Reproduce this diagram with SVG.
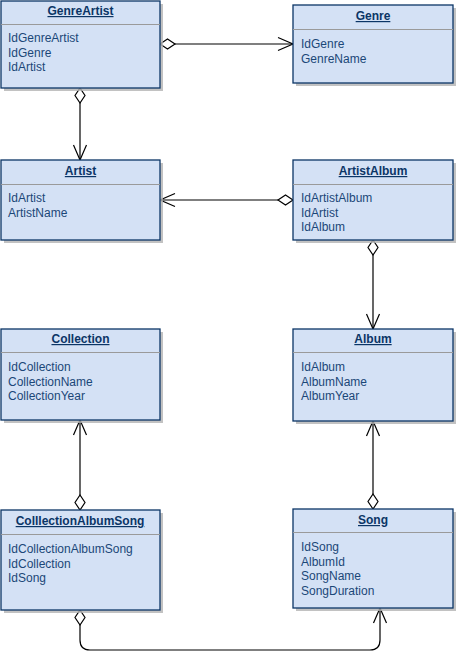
<svg xmlns="http://www.w3.org/2000/svg" width="456" height="668" viewBox="0 0 456 668">
<style>
.shadow{fill:#b3b3b3;opacity:0.8}
.box{fill:#d4e1f5;stroke:#0b3566;stroke-width:1.3}
.div{stroke:#9a9a9a;stroke-width:1}
.title{font-family:"Liberation Sans",Arial,sans-serif;font-size:12px;font-weight:bold;text-decoration:underline;fill:#0b3566;text-anchor:middle}
.attr{font-family:"Liberation Sans",Arial,sans-serif;font-size:12px;fill:#1b4778}
.conn{fill:none;stroke:#000;stroke-width:1.2}
</style>
<defs>
<marker id="dia" markerWidth="20" markerHeight="14" refX="1" refY="7" orient="auto" markerUnits="userSpaceOnUse">
<path d="M1,7 L8.5,2 L16,7 L8.5,12 Z" fill="#fff" stroke="#000" stroke-width="1.2"/>
</marker>
<marker id="arr" markerWidth="20" markerHeight="16" refX="17" refY="8" orient="auto" markerUnits="userSpaceOnUse">
<path d="M2,1.5 L17,8 L2,14.5" fill="none" stroke="#000" stroke-width="1.2"/>
</marker>
</defs>

<g id="connectors">
<path class="conn" d="M160,44 L293,44" marker-start="url(#dia)" marker-end="url(#arr)"/>
<path class="conn" d="M80,88 L80,160" marker-start="url(#dia)" marker-end="url(#arr)"/>
<path class="conn" d="M293,200 L160,200" marker-start="url(#dia)" marker-end="url(#arr)"/>
<path class="conn" d="M373,240 L373,329" marker-start="url(#dia)" marker-end="url(#arr)"/>
<path class="conn" d="M80,510 L80,420" marker-start="url(#dia)" marker-end="url(#arr)"/>
<path class="conn" d="M373,509 L373,421" marker-start="url(#dia)" marker-end="url(#arr)"/>
<path class="conn" d="M80,610 L80,640 Q80,650 90,650 L370,650 Q380,650 380,640 L380,608" marker-start="url(#dia)" marker-end="url(#arr)"/>
</g>

<g id="GenreArtist">
<rect class="shadow" x="4" y="4" width="159" height="87"/>
<rect class="box" x="1" y="1" width="159" height="87"/>
<line class="div" x1="1" y1="24.5" x2="160" y2="24.5"/>
<text class="title" x="80.5" y="15">GenreArtist</text>
<text class="attr" x="8" y="42">IdGenreArtist</text>
<text class="attr" x="8" y="57">IdGenre</text>
<text class="attr" x="8" y="71">IdArtist</text>
</g>

<g id="Genre">
<rect class="shadow" x="296" y="8" width="160" height="78"/>
<rect class="box" x="293" y="5" width="160" height="78"/>
<line class="div" x1="293" y1="29.5" x2="453" y2="29.5"/>
<text class="title" x="373" y="20">Genre</text>
<text class="attr" x="301" y="48">IdGenre</text>
<text class="attr" x="301" y="63">GenreName</text>
</g>

<g id="Artist">
<rect class="shadow" x="4" y="163" width="159" height="80"/>
<rect class="box" x="1" y="160" width="159" height="80"/>
<line class="div" x1="1" y1="184.5" x2="160" y2="184.5"/>
<text class="title" x="80.5" y="175">Artist</text>
<text class="attr" x="8" y="202">IdArtist</text>
<text class="attr" x="8" y="217">ArtistName</text>
</g>

<g id="ArtistAlbum">
<rect class="shadow" x="296" y="163" width="160" height="80"/>
<rect class="box" x="293" y="160" width="160" height="80"/>
<line class="div" x1="293" y1="184.5" x2="453" y2="184.5"/>
<text class="title" x="373" y="175">ArtistAlbum</text>
<text class="attr" x="301" y="202">IdArtistAlbum</text>
<text class="attr" x="301" y="217">IdArtist</text>
<text class="attr" x="301" y="231">IdAlbum</text>
</g>

<g id="Collection">
<rect class="shadow" x="4" y="332" width="159" height="91"/>
<rect class="box" x="1" y="329" width="159" height="91"/>
<line class="div" x1="1" y1="352.5" x2="160" y2="352.5"/>
<text class="title" x="80.5" y="343">Collection</text>
<text class="attr" x="8" y="371">IdCollection</text>
<text class="attr" x="8" y="386">CollectionName</text>
<text class="attr" x="8" y="400">CollectionYear</text>
</g>

<g id="Album">
<rect class="shadow" x="296" y="332" width="160" height="92"/>
<rect class="box" x="293" y="329" width="160" height="92"/>
<line class="div" x1="293" y1="352.5" x2="453" y2="352.5"/>
<text class="title" x="373" y="343">Album</text>
<text class="attr" x="301" y="371">IdAlbum</text>
<text class="attr" x="301" y="386">AlbumName</text>
<text class="attr" x="301" y="400">AlbumYear</text>
</g>

<g id="CollectionAlbumSong">
<rect class="shadow" x="4" y="513" width="159" height="100"/>
<rect class="box" x="1" y="510" width="159" height="100"/>
<line class="div" x1="1" y1="534.5" x2="160" y2="534.5"/>
<text class="title" x="80" y="525">ColllectionAlbumSong</text>
<text class="attr" x="8" y="553">IdCollectionAlbumSong</text>
<text class="attr" x="8" y="568">IdCollection</text>
<text class="attr" x="8" y="582">IdSong</text>
</g>

<g id="Song">
<rect class="shadow" x="296" y="512" width="160" height="99"/>
<rect class="box" x="293" y="509" width="160" height="99"/>
<line class="div" x1="293" y1="532.5" x2="453" y2="532.5"/>
<text class="title" x="373" y="524">Song</text>
<text class="attr" x="301" y="551">IdSong</text>
<text class="attr" x="301" y="566">AlbumId</text>
<text class="attr" x="301" y="580">SongName</text>
<text class="attr" x="301" y="595">SongDuration</text>
</g>
</svg>
